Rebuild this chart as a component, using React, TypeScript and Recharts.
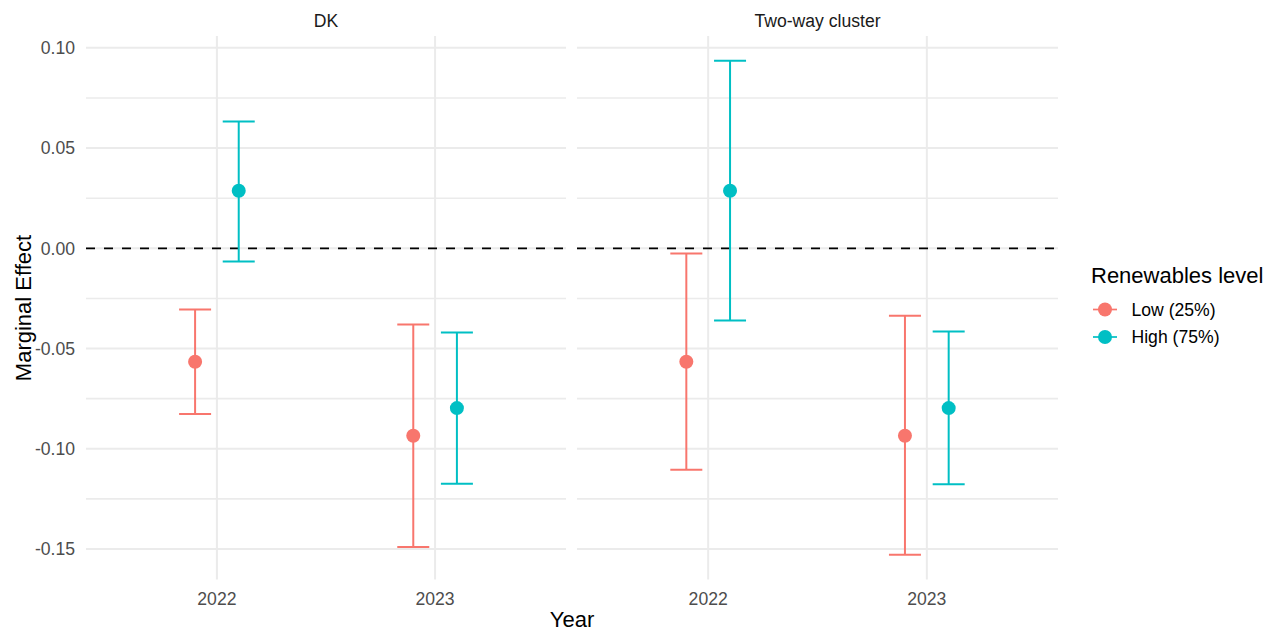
import React from 'react'
import { ScatterChart, Scatter, XAxis, YAxis, ReferenceLine, ErrorBar } from 'recharts'

const years = [2022, 2023]
const panels = ['DK', 'Two-way cluster']
const seriesNames = ['Low (25%)', 'High (75%)']
const colors = ['#F8766D', '#00BFC4']

// point estimates (same in both panels)
const lowEst = [-0.0566, -0.0935]
const highEst = [0.0287, -0.0797]

// confidence intervals, DK
const dkLowLo = [-0.0827, -0.149]
const dkLowHi = [-0.0305, -0.038]
const dkHighLo = [-0.0066, -0.1175]
const dkHighHi = [0.0632, -0.042]

// confidence intervals, two-way cluster
const twLowLo = [-0.1105, -0.1529]
const twLowHi = [-0.0026, -0.0337]
const twHighLo = [-0.036, -0.1177]
const twHighHi = [0.0936, -0.0415]

const yTicks = [-0.15, -0.125, -0.1, -0.075, -0.05, -0.025, 0, 0.025, 0.05, 0.075, 0.1]

const DODGE = 0.1
const FONT = '"Liberation Sans", Arial, sans-serif'
const GRID = '#EBEBEB'

function build(est: number[], lo: number[], hi: number[], shift: number) {
  return years.map((yr, i) => ({
    x: yr + shift,
    y: est[i],
    err: [est[i] - lo[i], hi[i] - est[i]],
  }))
}

const panelData = [
  [build(lowEst, dkLowLo, dkLowHi, -DODGE), build(highEst, dkHighLo, dkHighHi, DODGE)],
  [build(lowEst, twLowLo, twLowHi, -DODGE), build(highEst, twHighLo, twHighHi, DODGE)],
]

const isMajor = (v: number) => Math.abs(v * 20 - Math.round(v * 20)) < 1e-6
const fmtY = (v: number) => (isMajor(v) ? v.toFixed(2) : '')

function Panel({ idx, left, width, yAxisWidth }: { idx: number; left: number; width: number; yAxisWidth: number }) {
  return (
    <div style={{ position: 'absolute', left, top: 0 }}>
      <ScatterChart width={width} height={633} margin={{ top: 36, right: 0, bottom: 0, left: 0 }}>
        <XAxis
          type="number"
          dataKey="x"
          domain={[2021.4, 2023.6]}
          ticks={years}
          interval={0}
          allowDataOverflow
          height={53.5}
          axisLine={false}
          tickLine={false}
          tickMargin={7}
          tick={{ fill: '#4D4D4D', fontSize: 17.6, fontFamily: FONT }}
        />
        <YAxis
          type="number"
          dataKey="y"
          domain={[-0.1652, 0.1059]}
          ticks={yTicks}
          interval={0}
          allowDataOverflow
          width={yAxisWidth}
          axisLine={false}
          tickLine={false}
          tickMargin={5}
          tickFormatter={fmtY}
          tick={yAxisWidth > 0 ? { fill: '#4D4D4D', fontSize: 17.6, fontFamily: FONT } : false}
        />
        {yTicks.map((t) => (
          <ReferenceLine key={'h' + t} y={t} stroke={GRID} strokeWidth={isMajor(t) ? 2 : 1.6} />
        ))}
        {years.map((yr) => (
          <ReferenceLine key={'v' + yr} x={yr} stroke={GRID} strokeWidth={2} />
        ))}
        <ReferenceLine y={0} stroke="#000" strokeWidth={1.8} strokeDasharray="9 9" />
        {panelData[idx].map((d, s) => (
          <Scatter
            key={s}
            name={seriesNames[s]}
            data={d}
            fill={colors[s]}
            isAnimationActive={false}
            shape={(p: any) => <circle cx={p.cx} cy={p.cy} r={7} fill={colors[s]} />}
          >
            <ErrorBar dataKey="err" direction="y" width={16} stroke={colors[s]} strokeWidth={2} />
          </Scatter>
        ))}
      </ScatterChart>
    </div>
  )
}

export default function App() {
  return (
    <div style={{ position: 'absolute', left: 0, top: 0, width: 1277, height: 633, background: '#fff', fontFamily: FONT }}>
      <Panel idx={0} left={0} width={566} yAxisWidth={86} />
      <Panel idx={1} left={577} width={481} yAxisWidth={0} />
      <svg width={1277} height={633} style={{ position: 'absolute', left: 0, top: 0, pointerEvents: 'none' }}>
        <text x={326} y={27.3} textAnchor="middle" fontSize={17.6} fill="#1A1A1A" fontFamily={FONT}>
          {panels[0]}
        </text>
        <text x={817.5} y={27.3} textAnchor="middle" fontSize={17.6} fill="#1A1A1A" fontFamily={FONT}>
          {panels[1]}
        </text>
        <text x={31} y={308} textAnchor="middle" fontSize={22} fill="#000" fontFamily={FONT} transform="rotate(-90, 31, 308)">
          Marginal Effect
        </text>
        <text x={572} y={627} textAnchor="middle" fontSize={22} fill="#000" fontFamily={FONT}>
          Year
        </text>
        <text x={1091} y={283} fontSize={22} fill="#000" fontFamily={FONT}>
          Renewables level
        </text>
        {seriesNames.map((n, i) => {
          const cy = 309.5 + i * 27.5
          return (
            <g key={n}>
              <line x1={1093} x2={1117} y1={cy} y2={cy} stroke={colors[i]} strokeWidth={1.7} />
              <circle cx={1105} cy={cy} r={7} fill={colors[i]} />
              <text x={1131.5} y={cy + 6.2} fontSize={17.6} fill="#000" fontFamily={FONT}>
                {n}
              </text>
            </g>
          )
        })}
      </svg>
    </div>
  )
}
